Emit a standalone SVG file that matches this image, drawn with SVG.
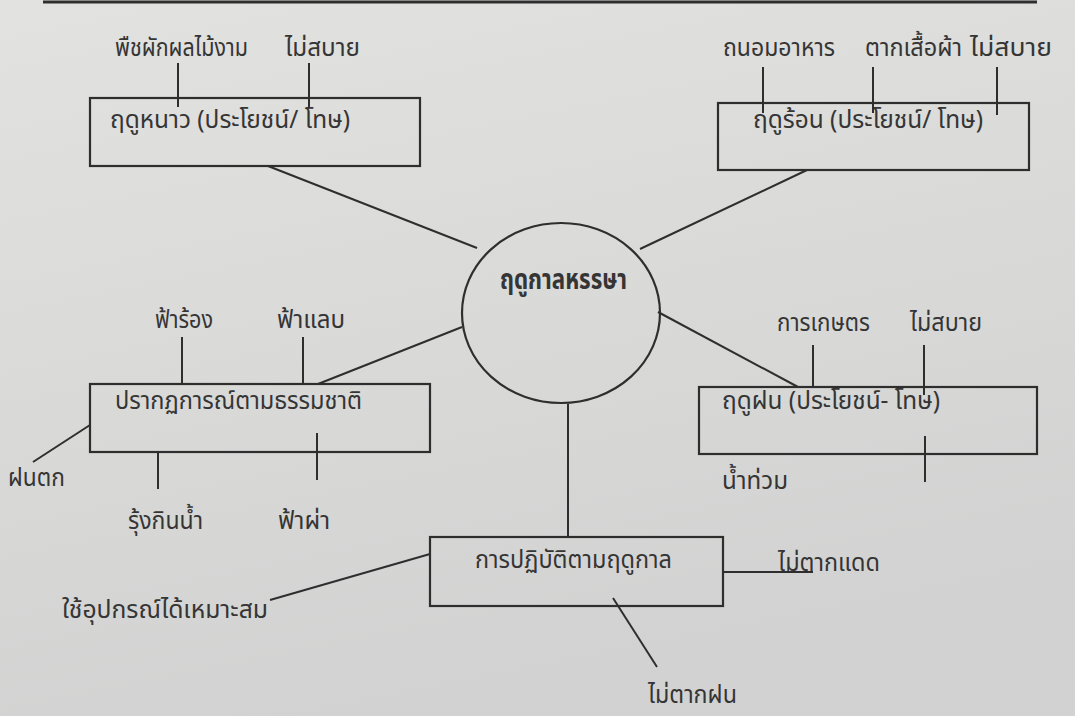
<svg xmlns="http://www.w3.org/2000/svg" width="1075" height="716" viewBox="0 0 1075 716">
<defs>
<linearGradient id="bg" x1="0" y1="0" x2="0.3" y2="1">
<stop offset="0" stop-color="#e2e2e0"/>
<stop offset="1" stop-color="#d2d2d2"/>
</linearGradient>
<style>
.box{fill:none;stroke:#2e2e2e;stroke-width:2.2}
.ln{stroke:#2e2e2e;stroke-width:2;fill:none}
.t{font-family:"Noto Sans Thai","Noto Sans Thai UI","Loma","Garuda","Tlwg Typo","Noto Sans",sans-serif;font-size:25px;fill:#353535}
.b{font-weight:bold;font-size:28px}
</style>
</defs>
<rect width="1075" height="716" fill="url(#bg)"/>
<line x1="43" y1="2" x2="1037" y2="2" stroke="#2e2e2e" stroke-width="3"/>

<g id="connectors">
<line class="ln" x1="268" y1="166" x2="477" y2="248"/>
<line class="ln" x1="807" y1="170" x2="640" y2="249"/>
<line class="ln" x1="318" y1="384" x2="462" y2="327"/>
<line class="ln" x1="658" y1="312" x2="798" y2="387"/>
<line class="ln" x1="568" y1="404" x2="568" y2="537"/>
</g>

<g id="center">
<ellipse class="box" cx="561" cy="313" rx="99" ry="90"/>
<text class="t b" x="500" y="289" textLength="127" lengthAdjust="spacingAndGlyphs">ฤดูกาลหรรษา</text>
</g>

<g id="winter">
<rect class="box" x="90" y="98" width="330" height="68"/>
<text class="t" x="110" y="128" textLength="240" lengthAdjust="spacingAndGlyphs">ฤดูหนาว (ประโยชน์/ โทษ)</text>
<line class="ln" x1="178" y1="63" x2="178" y2="107"/>
<line class="ln" x1="309" y1="63" x2="309" y2="107"/>
<text class="t" x="115" y="56" textLength="133" lengthAdjust="spacingAndGlyphs">พืชผักผลไม้งาม</text>
<text class="t" x="285" y="56" textLength="75" lengthAdjust="spacingAndGlyphs">ไม่สบาย</text>
</g>

<g id="summer">
<rect class="box" x="718" y="103" width="311" height="67"/>
<text class="t" x="753" y="128" textLength="230" lengthAdjust="spacingAndGlyphs">ฤดูร้อน (ประโยชน์/ โทษ)</text>
<line class="ln" x1="763" y1="67" x2="763" y2="113"/>
<line class="ln" x1="873" y1="67" x2="873" y2="113"/>
<line class="ln" x1="997" y1="67" x2="997" y2="115"/>
<text class="t" x="723" y="56" textLength="112" lengthAdjust="spacingAndGlyphs">ถนอมอาหาร</text>
<text class="t" x="865" y="56" textLength="97" lengthAdjust="spacingAndGlyphs">ตากเสื้อผ้า</text>
<text class="t" x="970" y="56" textLength="82" lengthAdjust="spacingAndGlyphs">ไม่สบาย</text>
</g>

<g id="nature">
<rect class="box" x="90" y="384" width="340" height="68"/>
<text class="t" x="115" y="409" textLength="247" lengthAdjust="spacingAndGlyphs">ปรากฏการณ์ตามธรรมชาติ</text>
<line class="ln" x1="182" y1="337" x2="182" y2="384"/>
<line class="ln" x1="303" y1="337" x2="303" y2="384"/>
<line class="ln" x1="33" y1="462" x2="90" y2="425"/>
<line class="ln" x1="158" y1="452" x2="158" y2="489"/>
<line class="ln" x1="317" y1="433" x2="317" y2="480"/>
<text class="t" x="155" y="328" textLength="58" lengthAdjust="spacingAndGlyphs">ฟ้าร้อง</text>
<text class="t" x="277" y="328" textLength="68" lengthAdjust="spacingAndGlyphs">ฟ้าแลบ</text>
<text class="t" x="8" y="486" textLength="57" lengthAdjust="spacingAndGlyphs">ฝนตก</text>
<text class="t" x="128" y="529" textLength="75" lengthAdjust="spacingAndGlyphs">รุ้งกินน้ำ</text>
<text class="t" x="278" y="529" textLength="52" lengthAdjust="spacingAndGlyphs">ฟ้าผ่า</text>
</g>

<g id="rainy">
<rect class="box" x="699" y="387" width="338" height="67"/>
<text class="t" x="722" y="409" textLength="218" lengthAdjust="spacingAndGlyphs">ฤดูฝน (ประโยชน์- โทษ)</text>
<line class="ln" x1="813" y1="345" x2="813" y2="387"/>
<line class="ln" x1="924" y1="345" x2="924" y2="395"/>
<line class="ln" x1="925" y1="436" x2="925" y2="482"/>
<text class="t" x="777" y="331" textLength="93" lengthAdjust="spacingAndGlyphs">การเกษตร</text>
<text class="t" x="910" y="331" textLength="72" lengthAdjust="spacingAndGlyphs">ไม่สบาย</text>
<text class="t" x="722" y="489" textLength="66" lengthAdjust="spacingAndGlyphs">น้ำท่วม</text>
</g>

<g id="practice">
<rect class="box" x="430" y="537" width="293" height="69"/>
<text class="t" x="475" y="568" textLength="197" lengthAdjust="spacingAndGlyphs">การปฏิบัติตามฤดูกาล</text>
<line class="ln" x1="723" y1="572" x2="813" y2="572"/>
<line class="ln" x1="270" y1="600" x2="430" y2="554"/>
<line class="ln" x1="613" y1="598" x2="657" y2="667"/>
<text class="t" x="778" y="571" textLength="102" lengthAdjust="spacingAndGlyphs">ไม่ตากแดด</text>
<text class="t" x="62" y="618" textLength="206" lengthAdjust="spacingAndGlyphs">ใช้อุปกรณ์ได้เหมาะสม</text>
<text class="t" x="648" y="703" textLength="89" lengthAdjust="spacingAndGlyphs">ไม่ตากฝน</text>
</g>
</svg>
